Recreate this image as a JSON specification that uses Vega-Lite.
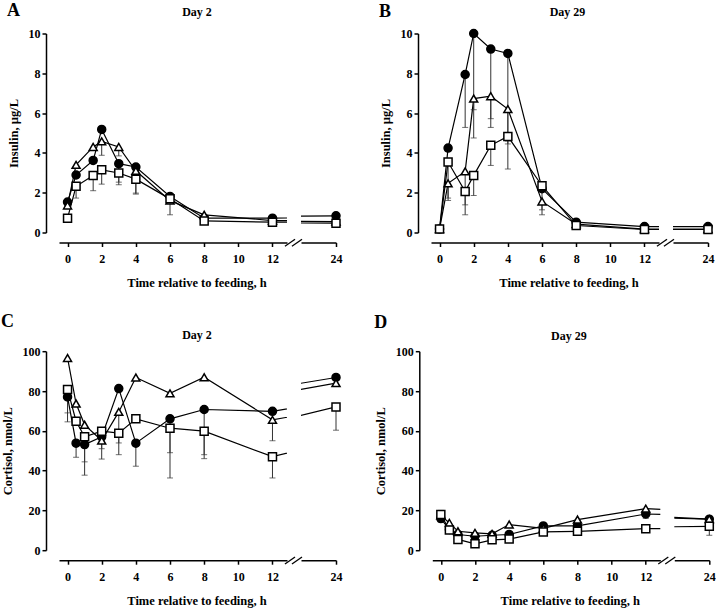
{
  "$schema": "https://vega.github.io/schema/vega-lite/v6.json",
  "padding": {"left": 1, "top": 1.5, "right": 3, "bottom": 0},
  "background": "white",
  "config": {
    "font": "Liberation Serif",
    "view": {"stroke": null},
    "axis": {"domainColor": "black", "domainWidth": 1.5, "tickColor": "black", "tickWidth": 1.5, "tickSize": 4, "labelFont": "Liberation Serif", "labelFontSize": 12, "labelFontWeight": "bold", "labelColor": "black", "titleFont": "Liberation Serif", "titleFontSize": 12.5, "titleFontWeight": "bold", "titleColor": "black", "grid": false, "labelFlush": false, "labelOverlap": false, "labelBound": false},
    "axisX": {"offset": 10, "labelPadding": 7, "titlePadding": 12, "titleX": 137.5},
    "axisY": {"offset": 13, "labelPadding": 2, "titlePadding": 8},
    "title": {"font": "Liberation Serif", "fontWeight": "bold", "color": "black"}
  },
  "datasets": {
    "ins2": [
      {"g": "circle", "t": 0, "v": 1.53}, {"g": "circle", "t": 0.5, "v": 2.89}, {"g": "circle", "t": 1.5, "v": 3.62}, {"g": "circle", "t": 2, "v": 5.18}, {"g": "circle", "t": 3, "v": 3.46, "e": 2.53}, {"g": "circle", "t": 4, "v": 3.29, "e": 1.98}, {"g": "circle", "t": 6, "v": 1.81}, {"g": "circle", "t": 8, "v": 0.72}, {"g": "circle", "t": 12, "v": 0.72}, {"g": "circle", "t": 24, "v": 0.84},
      {"g": "triangle", "t": 0, "v": 1.36}, {"g": "triangle", "t": 0.5, "v": 3.4}, {"g": "triangle", "t": 1.5, "v": 4.3}, {"g": "triangle", "t": 2, "v": 4.58, "e": 3.88}, {"g": "triangle", "t": 3, "v": 4.3, "e": 3.85}, {"g": "triangle", "t": 4, "v": 3.1}, {"g": "triangle", "t": 6, "v": 1.6}, {"g": "triangle", "t": 8, "v": 0.89}, {"g": "triangle", "t": 12, "v": 0.6}, {"g": "triangle", "t": 24, "v": 0.55},
      {"g": "square", "t": 0, "v": 0.72}, {"g": "square", "t": 0.5, "v": 2.32, "e": 1.73}, {"g": "square", "t": 1.5, "v": 2.87, "e": 2.1}, {"g": "square", "t": 2, "v": 3.15, "e": 2.43}, {"g": "square", "t": 3, "v": 2.99, "e": 2.4}, {"g": "square", "t": 4, "v": 2.68, "e": 1.93}, {"g": "square", "t": 6, "v": 1.69, "e": 0.89}, {"g": "square", "t": 8, "v": 0.58}, {"g": "square", "t": 12, "v": 0.52}, {"g": "square", "t": 24, "v": 0.47}
    ],
    "ins29": [
      {"g": "circle", "t": 0, "v": 0.17}, {"g": "circle", "t": 0.5, "v": 4.24}, {"g": "circle", "t": 1.5, "v": 7.94, "e": 5.28}, {"g": "circle", "t": 2, "v": 10.0, "e": 6.17}, {"g": "circle", "t": 3, "v": 9.22, "e": 5.72}, {"g": "circle", "t": 4, "v": 9.0, "e": 4.6}, {"g": "circle", "t": 6, "v": 2.2, "e": 1.14}, {"g": "circle", "t": 8, "v": 0.52}, {"g": "circle", "t": 12, "v": 0.3}, {"g": "circle", "t": 24, "v": 0.3},
      {"g": "triangle", "t": 0, "v": 0.17}, {"g": "triangle", "t": 0.5, "v": 2.47, "e": 1.61}, {"g": "triangle", "t": 1.5, "v": 3.07, "e": 1.39}, {"g": "triangle", "t": 2, "v": 6.73, "e": 4.75}, {"g": "triangle", "t": 3, "v": 6.85, "e": 5.28}, {"g": "triangle", "t": 4, "v": 6.2, "e": 3.19}, {"g": "triangle", "t": 6, "v": 1.56, "e": 0.89}, {"g": "triangle", "t": 8, "v": 0.42}, {"g": "triangle", "t": 12, "v": 0.17}, {"g": "triangle", "t": 24, "v": 0.17},
      {"g": "square", "t": 0, "v": 0.17}, {"g": "square", "t": 0.5, "v": 3.54, "e": 1.73}, {"g": "square", "t": 1.5, "v": 2.06, "e": 0.89}, {"g": "square", "t": 2, "v": 2.87, "e": 1.86}, {"g": "square", "t": 3, "v": 4.38, "e": 3.37}, {"g": "square", "t": 4, "v": 4.83, "e": 4.45}, {"g": "square", "t": 6, "v": 2.35}, {"g": "square", "t": 8, "v": 0.35}, {"g": "square", "t": 12, "v": 0.15}, {"g": "square", "t": 24, "v": 0.15}
    ],
    "cor2": [
      {"g": "circle", "t": 0, "v": 77.0, "e": 64.5}, {"g": "circle", "t": 0.5, "v": 53.8, "e": 46.7}, {"g": "circle", "t": 1, "v": 53.1, "e": 37.7}, {"g": "circle", "t": 2, "v": 57.0}, {"g": "circle", "t": 3, "v": 81.2}, {"g": "circle", "t": 4, "v": 53.8, "e": 42.2}, {"g": "circle", "t": 6, "v": 66.0, "e": 36.3}, {"g": "circle", "t": 8, "v": 70.7, "e": 46.0}, {"g": "circle", "t": 12, "v": 69.8}, {"g": "circle", "t": 24, "v": 86.8},
      {"g": "triangle", "t": 0, "v": 96.6}, {"g": "triangle", "t": 0.5, "v": 73.7}, {"g": "triangle", "t": 1, "v": 63.0}, {"g": "triangle", "t": 2, "v": 55.1, "e": 45.8}, {"g": "triangle", "t": 3, "v": 69.5, "e": 53.9}, {"g": "triangle", "t": 4, "v": 86.8}, {"g": "triangle", "t": 6, "v": 78.8}, {"g": "triangle", "t": 8, "v": 86.9}, {"g": "triangle", "t": 12, "v": 65.5, "e": 55.0}, {"g": "triangle", "t": 24, "v": 84.0},
      {"g": "square", "t": 0, "v": 80.8, "e": 69.0}, {"g": "square", "t": 0.5, "v": 64.8}, {"g": "square", "t": 1, "v": 57.0, "e": 44.4}, {"g": "square", "t": 2, "v": 59.8, "e": 51.0}, {"g": "square", "t": 3, "v": 58.8, "e": 48.0}, {"g": "square", "t": 4, "v": 66.0}, {"g": "square", "t": 6, "v": 61.3, "e": 49.0}, {"g": "square", "t": 8, "v": 59.8, "e": 48.0}, {"g": "square", "t": 12, "v": 47.0, "e": 36.3}, {"g": "square", "t": 24, "v": 72.0, "e": 60.3}
    ],
    "cor29": [
      {"g": "circle", "t": 0, "v": 15.9, "e": 14.2}, {"g": "circle", "t": 0.5, "v": 10.4}, {"g": "circle", "t": 1, "v": 7.9}, {"g": "circle", "t": 2, "v": 7.0}, {"g": "circle", "t": 3, "v": 7.5}, {"g": "circle", "t": 4, "v": 7.9}, {"g": "circle", "t": 6, "v": 12.2}, {"g": "circle", "t": 8, "v": 12.2}, {"g": "circle", "t": 12, "v": 18.2, "e": 16.0}, {"g": "circle", "t": 24, "v": 15.6},
      {"g": "triangle", "t": 0, "v": 17.5}, {"g": "triangle", "t": 0.5, "v": 13.7}, {"g": "triangle", "t": 1, "v": 9.5}, {"g": "triangle", "t": 2, "v": 8.7}, {"g": "triangle", "t": 3, "v": 8.2}, {"g": "triangle", "t": 4, "v": 12.9}, {"g": "triangle", "t": 6, "v": 11.0}, {"g": "triangle", "t": 8, "v": 15.4}, {"g": "triangle", "t": 12, "v": 20.9}, {"g": "triangle", "t": 24, "v": 15.6},
      {"g": "square", "t": 0, "v": 17.9, "e": 20.0}, {"g": "square", "t": 0.5, "v": 10.1}, {"g": "square", "t": 1, "v": 5.4}, {"g": "square", "t": 2, "v": 3.2}, {"g": "square", "t": 3, "v": 5.2}, {"g": "square", "t": 4, "v": 5.6}, {"g": "square", "t": 6, "v": 9.2, "e": 7.5}, {"g": "square", "t": 8, "v": 9.5}, {"g": "square", "t": 12, "v": 10.8}, {"g": "square", "t": 24, "v": 12.0, "e": 7.5}
    ]
  },
  "concat": [
    {
      "spacing": 36,
      "hconcat": [
        {
          "bounds": "flush", "spacing": 14,
          "hconcat": [
            {
              "width": 228, "height": 199, "data": {"name": "ins2"},
              "title": {"text": "A", "anchor": "start", "frame": "bounds", "fontSize": 18, "offset": -6, "baseline": "alphabetic"},
              "layer": [
                {"mark": {"type": "line", "clip": true, "color": "black", "strokeWidth": 1.2},
                 "encoding": {"x": {"field": "t", "type": "quantitative", "scale": {"domain": [-0.5, 12.85], "nice": false, "zero": false}, "axis": {"values": [0, 2, 4, 6, 8, 10, 12], "tickCount": 50, "format": "d", "title": "Time relative to feeding, h"}},
                              "y": {"field": "v", "type": "quantitative", "scale": {"domain": [0, 10], "nice": false}, "axis": {"values": [0, 2, 4, 6, 8, 10], "tickCount": 50, "format": "d", "title": "Insulin, µg/L"}},
                              "detail": {"field": "g"}}},
                {"transform": [{"filter": "isValid(datum.e) && datum.t <= 12"}], "mark": {"type": "rule", "color": "#333", "strokeWidth": 1},
                 "encoding": {"x": {"field": "t", "type": "quantitative"}, "y": {"field": "v", "type": "quantitative"}, "y2": {"field": "e"}}},
                {"transform": [{"filter": "isValid(datum.e) && datum.t <= 12"}], "mark": {"type": "tick", "orient": "horizontal", "color": "#333", "size": 6, "thickness": 1},
                 "encoding": {"x": {"field": "t", "type": "quantitative"}, "y": {"field": "e", "type": "quantitative"}}},
                {"transform": [{"filter": "datum.t <= 12"}], "mark": {"type": "point", "filled": true, "stroke": "black", "strokeWidth": 1.5, "size": 64, "opacity": 1},
                 "encoding": {"x": {"field": "t", "type": "quantitative"}, "y": {"field": "v", "type": "quantitative"},
                              "shape": {"field": "g", "type": "nominal", "scale": {"domain": ["circle", "triangle", "square"], "range": ["circle", "triangle-up", "square"]}, "legend": null},
                              "fill": {"field": "g", "type": "nominal", "scale": {"domain": ["circle", "triangle", "square"], "range": ["black", "white", "white"]}, "legend": null}}},
                {"data": {"values": [{}]}, "mark": {"type": "rule", "color": "black", "strokeWidth": 1.3},
                 "encoding": {"x": {"datum": 12.73}, "x2": {"datum": 13.32}, "y": {"datum": -0.69}, "y2": {"datum": -0.34}}},
                {"data": {"values": [{}]}, "mark": {"type": "rule", "color": "black", "strokeWidth": 1.3},
                 "encoding": {"x": {"datum": 13.14}, "x2": {"datum": 13.73}, "y": {"datum": -0.69}, "y2": {"datum": -0.34}}}
              ]
            },
            {
              "width": 35, "height": 199, "data": {"name": "ins2"},
              "title": {"text": "Day 2", "anchor": "middle", "frame": "group", "fontSize": 12, "offset": 5.6, "baseline": "alphabetic", "dx": -121.5},
              "layer": [
                {"mark": {"type": "line", "clip": true, "color": "black", "strokeWidth": 1.2},
                 "encoding": {"x": {"field": "t", "type": "quantitative", "scale": {"domain": [21.95, 24], "nice": false, "zero": false}, "axis": {"values": [24], "tickCount": 50, "format": "d", "title": null}},
                              "y": {"field": "v", "type": "quantitative", "scale": {"domain": [0, 10], "nice": false}, "axis": null},
                              "detail": {"field": "g"}}},
                {"transform": [{"filter": "datum.t >= 22"}], "mark": {"type": "point", "filled": true, "stroke": "black", "strokeWidth": 1.5, "size": 64, "opacity": 1},
                 "encoding": {"x": {"field": "t", "type": "quantitative"}, "y": {"field": "v", "type": "quantitative"},
                              "shape": {"field": "g", "type": "nominal", "scale": {"domain": ["circle", "triangle", "square"], "range": ["circle", "triangle-up", "square"]}, "legend": null},
                              "fill": {"field": "g", "type": "nominal", "scale": {"domain": ["circle", "triangle", "square"], "range": ["black", "white", "white"]}, "legend": null}}}
              ]
            }
          ]
        },
        {
          "bounds": "flush", "spacing": 14,
          "hconcat": [
            {
              "width": 228, "height": 199, "data": {"name": "ins29"},
              "title": {"text": "B", "anchor": "start", "frame": "bounds", "fontSize": 18, "offset": -8.2, "baseline": "alphabetic"},
              "layer": [
                {"mark": {"type": "line", "clip": true, "color": "black", "strokeWidth": 1.2},
                 "encoding": {"x": {"field": "t", "type": "quantitative", "scale": {"domain": [-0.5, 12.85], "nice": false, "zero": false}, "axis": {"values": [0, 2, 4, 6, 8, 10, 12], "tickCount": 50, "format": "d", "title": "Time relative to feeding, h"}},
                              "y": {"field": "v", "type": "quantitative", "scale": {"domain": [0, 10], "nice": false}, "axis": {"values": [0, 2, 4, 6, 8, 10], "tickCount": 50, "format": "d", "title": "Insulin, µg/L"}},
                              "detail": {"field": "g"}}},
                {"transform": [{"filter": "isValid(datum.e) && datum.t <= 12"}], "mark": {"type": "rule", "color": "#333", "strokeWidth": 1},
                 "encoding": {"x": {"field": "t", "type": "quantitative"}, "y": {"field": "v", "type": "quantitative"}, "y2": {"field": "e"}}},
                {"transform": [{"filter": "isValid(datum.e) && datum.t <= 12"}], "mark": {"type": "tick", "orient": "horizontal", "color": "#333", "size": 6, "thickness": 1},
                 "encoding": {"x": {"field": "t", "type": "quantitative"}, "y": {"field": "e", "type": "quantitative"}}},
                {"transform": [{"filter": "datum.t <= 12"}], "mark": {"type": "point", "filled": true, "stroke": "black", "strokeWidth": 1.5, "size": 64, "opacity": 1},
                 "encoding": {"x": {"field": "t", "type": "quantitative"}, "y": {"field": "v", "type": "quantitative"},
                              "shape": {"field": "g", "type": "nominal", "scale": {"domain": ["circle", "triangle", "square"], "range": ["circle", "triangle-up", "square"]}, "legend": null},
                              "fill": {"field": "g", "type": "nominal", "scale": {"domain": ["circle", "triangle", "square"], "range": ["black", "white", "white"]}, "legend": null}}},
                {"data": {"values": [{}]}, "mark": {"type": "rule", "color": "black", "strokeWidth": 1.3},
                 "encoding": {"x": {"datum": 12.73}, "x2": {"datum": 13.32}, "y": {"datum": -0.69}, "y2": {"datum": -0.34}}},
                {"data": {"values": [{}]}, "mark": {"type": "rule", "color": "black", "strokeWidth": 1.3},
                 "encoding": {"x": {"datum": 13.14}, "x2": {"datum": 13.73}, "y": {"datum": -0.69}, "y2": {"datum": -0.34}}}
              ]
            },
            {
              "width": 35, "height": 199, "data": {"name": "ins29"},
              "title": {"text": "Day 29", "anchor": "middle", "frame": "group", "fontSize": 12, "offset": 5.6, "baseline": "alphabetic", "dx": -123},
              "layer": [
                {"mark": {"type": "line", "clip": true, "color": "black", "strokeWidth": 1.2},
                 "encoding": {"x": {"field": "t", "type": "quantitative", "scale": {"domain": [21.95, 24], "nice": false, "zero": false}, "axis": {"values": [24], "tickCount": 50, "format": "d", "title": null}},
                              "y": {"field": "v", "type": "quantitative", "scale": {"domain": [0, 10], "nice": false}, "axis": null},
                              "detail": {"field": "g"}}},
                {"transform": [{"filter": "datum.t >= 22"}], "mark": {"type": "point", "filled": true, "stroke": "black", "strokeWidth": 1.5, "size": 64, "opacity": 1},
                 "encoding": {"x": {"field": "t", "type": "quantitative"}, "y": {"field": "v", "type": "quantitative"},
                              "shape": {"field": "g", "type": "nominal", "scale": {"domain": ["circle", "triangle", "square"], "range": ["circle", "triangle-up", "square"]}, "legend": null},
                              "fill": {"field": "g", "type": "nominal", "scale": {"domain": ["circle", "triangle", "square"], "range": ["black", "white", "white"]}, "legend": null}}}
              ]
            }
          ]
        }
      ]
    },
    {
      "spacing": 31.3,
      "hconcat": [
        {
          "bounds": "flush", "spacing": 14,
          "hconcat": [
            {
              "width": 228, "height": 199, "data": {"name": "cor2"},
              "title": {"text": "C", "anchor": "start", "frame": "bounds", "fontSize": 18, "offset": -0.2, "baseline": "alphabetic"},
              "layer": [
                {"mark": {"type": "line", "clip": true, "color": "black", "strokeWidth": 1.2},
                 "encoding": {"x": {"field": "t", "type": "quantitative", "scale": {"domain": [-0.5, 12.85], "nice": false, "zero": false}, "axis": {"values": [0, 2, 4, 6, 8, 10, 12], "tickCount": 50, "format": "d", "title": "Time relative to feeding, h"}},
                              "y": {"field": "v", "type": "quantitative", "scale": {"domain": [0, 100], "nice": false}, "axis": {"values": [0, 20, 40, 60, 80, 100], "tickCount": 50, "format": "d", "title": "Cortisol, nmol/L"}},
                              "detail": {"field": "g"}}},
                {"transform": [{"filter": "isValid(datum.e) && datum.t <= 12"}], "mark": {"type": "rule", "color": "#333", "strokeWidth": 1},
                 "encoding": {"x": {"field": "t", "type": "quantitative"}, "y": {"field": "v", "type": "quantitative"}, "y2": {"field": "e"}}},
                {"transform": [{"filter": "isValid(datum.e) && datum.t <= 12"}], "mark": {"type": "tick", "orient": "horizontal", "color": "#333", "size": 6, "thickness": 1},
                 "encoding": {"x": {"field": "t", "type": "quantitative"}, "y": {"field": "e", "type": "quantitative"}}},
                {"transform": [{"filter": "datum.t <= 12"}], "mark": {"type": "point", "filled": true, "stroke": "black", "strokeWidth": 1.5, "size": 64, "opacity": 1},
                 "encoding": {"x": {"field": "t", "type": "quantitative"}, "y": {"field": "v", "type": "quantitative"},
                              "shape": {"field": "g", "type": "nominal", "scale": {"domain": ["circle", "triangle", "square"], "range": ["circle", "triangle-up", "square"]}, "legend": null},
                              "fill": {"field": "g", "type": "nominal", "scale": {"domain": ["circle", "triangle", "square"], "range": ["black", "white", "white"]}, "legend": null}}},
                {"data": {"values": [{}]}, "mark": {"type": "rule", "color": "black", "strokeWidth": 1.3},
                 "encoding": {"x": {"datum": 12.73}, "x2": {"datum": 13.32}, "y": {"datum": -6.9}, "y2": {"datum": -3.4}}},
                {"data": {"values": [{}]}, "mark": {"type": "rule", "color": "black", "strokeWidth": 1.3},
                 "encoding": {"x": {"datum": 13.14}, "x2": {"datum": 13.73}, "y": {"datum": -6.9}, "y2": {"datum": -3.4}}}
              ]
            },
            {
              "width": 35, "height": 199, "data": {"name": "cor2"},
              "title": {"text": "Day 2", "anchor": "middle", "frame": "group", "fontSize": 12, "offset": 0.6, "baseline": "alphabetic", "dx": -121.5},
              "layer": [
                {"mark": {"type": "line", "clip": true, "color": "black", "strokeWidth": 1.2},
                 "encoding": {"x": {"field": "t", "type": "quantitative", "scale": {"domain": [21.95, 24], "nice": false, "zero": false}, "axis": {"values": [24], "tickCount": 50, "format": "d", "title": null}},
                              "y": {"field": "v", "type": "quantitative", "scale": {"domain": [0, 100], "nice": false}, "axis": null},
                              "detail": {"field": "g"}}},
                {"transform": [{"filter": "isValid(datum.e) && datum.t >= 22"}], "mark": {"type": "rule", "color": "#333", "strokeWidth": 1},
                 "encoding": {"x": {"field": "t", "type": "quantitative"}, "y": {"field": "v", "type": "quantitative"}, "y2": {"field": "e"}}},
                {"transform": [{"filter": "isValid(datum.e) && datum.t >= 22"}], "mark": {"type": "tick", "orient": "horizontal", "color": "#333", "size": 6, "thickness": 1},
                 "encoding": {"x": {"field": "t", "type": "quantitative"}, "y": {"field": "e", "type": "quantitative"}}},
                {"transform": [{"filter": "datum.t >= 22"}], "mark": {"type": "point", "filled": true, "stroke": "black", "strokeWidth": 1.5, "size": 64, "opacity": 1},
                 "encoding": {"x": {"field": "t", "type": "quantitative"}, "y": {"field": "v", "type": "quantitative"},
                              "shape": {"field": "g", "type": "nominal", "scale": {"domain": ["circle", "triangle", "square"], "range": ["circle", "triangle-up", "square"]}, "legend": null},
                              "fill": {"field": "g", "type": "nominal", "scale": {"domain": ["circle", "triangle", "square"], "range": ["black", "white", "white"]}, "legend": null}}}
              ]
            }
          ]
        },
        {
          "bounds": "flush", "spacing": 14,
          "hconcat": [
            {
              "width": 228, "height": 199, "data": {"name": "cor29"},
              "title": {"text": "D", "anchor": "start", "frame": "bounds", "fontSize": 18, "offset": -1.2, "baseline": "alphabetic"},
              "layer": [
                {"mark": {"type": "line", "clip": true, "color": "black", "strokeWidth": 1.2},
                 "encoding": {"x": {"field": "t", "type": "quantitative", "scale": {"domain": [-0.5, 12.85], "nice": false, "zero": false}, "axis": {"values": [0, 2, 4, 6, 8, 10, 12], "tickCount": 50, "format": "d", "title": "Time relative to feeding, h"}},
                              "y": {"field": "v", "type": "quantitative", "scale": {"domain": [0, 100], "nice": false}, "axis": {"values": [0, 20, 40, 60, 80, 100], "tickCount": 50, "format": "d", "title": "Cortisol, nmol/L"}},
                              "detail": {"field": "g"}}},
                {"transform": [{"filter": "isValid(datum.e) && datum.t <= 12"}], "mark": {"type": "rule", "color": "#333", "strokeWidth": 1},
                 "encoding": {"x": {"field": "t", "type": "quantitative"}, "y": {"field": "v", "type": "quantitative"}, "y2": {"field": "e"}}},
                {"transform": [{"filter": "isValid(datum.e) && datum.t <= 12"}], "mark": {"type": "tick", "orient": "horizontal", "color": "#333", "size": 6, "thickness": 1},
                 "encoding": {"x": {"field": "t", "type": "quantitative"}, "y": {"field": "e", "type": "quantitative"}}},
                {"transform": [{"filter": "datum.t <= 12"}], "mark": {"type": "point", "filled": true, "stroke": "black", "strokeWidth": 1.5, "size": 64, "opacity": 1},
                 "encoding": {"x": {"field": "t", "type": "quantitative"}, "y": {"field": "v", "type": "quantitative"},
                              "shape": {"field": "g", "type": "nominal", "scale": {"domain": ["circle", "triangle", "square"], "range": ["circle", "triangle-up", "square"]}, "legend": null},
                              "fill": {"field": "g", "type": "nominal", "scale": {"domain": ["circle", "triangle", "square"], "range": ["black", "white", "white"]}, "legend": null}}},
                {"data": {"values": [{}]}, "mark": {"type": "rule", "color": "black", "strokeWidth": 1.3},
                 "encoding": {"x": {"datum": 12.73}, "x2": {"datum": 13.32}, "y": {"datum": -6.9}, "y2": {"datum": -3.4}}},
                {"data": {"values": [{}]}, "mark": {"type": "rule", "color": "black", "strokeWidth": 1.3},
                 "encoding": {"x": {"datum": 13.14}, "x2": {"datum": 13.73}, "y": {"datum": -6.9}, "y2": {"datum": -3.4}}}
              ]
            },
            {
              "width": 35, "height": 199, "data": {"name": "cor29"},
              "title": {"text": "Day 29", "anchor": "middle", "frame": "group", "fontSize": 12, "offset": -0.4, "baseline": "alphabetic", "dx": -123},
              "layer": [
                {"mark": {"type": "line", "clip": true, "color": "black", "strokeWidth": 1.2},
                 "encoding": {"x": {"field": "t", "type": "quantitative", "scale": {"domain": [21.95, 24], "nice": false, "zero": false}, "axis": {"values": [24], "tickCount": 50, "format": "d", "title": null}},
                              "y": {"field": "v", "type": "quantitative", "scale": {"domain": [0, 100], "nice": false}, "axis": null},
                              "detail": {"field": "g"}}},
                {"transform": [{"filter": "isValid(datum.e) && datum.t >= 22"}], "mark": {"type": "rule", "color": "#333", "strokeWidth": 1},
                 "encoding": {"x": {"field": "t", "type": "quantitative"}, "y": {"field": "v", "type": "quantitative"}, "y2": {"field": "e"}}},
                {"transform": [{"filter": "isValid(datum.e) && datum.t >= 22"}], "mark": {"type": "tick", "orient": "horizontal", "color": "#333", "size": 6, "thickness": 1},
                 "encoding": {"x": {"field": "t", "type": "quantitative"}, "y": {"field": "e", "type": "quantitative"}}},
                {"transform": [{"filter": "datum.t >= 22"}], "mark": {"type": "point", "filled": true, "stroke": "black", "strokeWidth": 1.5, "size": 64, "opacity": 1},
                 "encoding": {"x": {"field": "t", "type": "quantitative"}, "y": {"field": "v", "type": "quantitative"},
                              "shape": {"field": "g", "type": "nominal", "scale": {"domain": ["circle", "triangle", "square"], "range": ["circle", "triangle-up", "square"]}, "legend": null},
                              "fill": {"field": "g", "type": "nominal", "scale": {"domain": ["circle", "triangle", "square"], "range": ["black", "white", "white"]}, "legend": null}}}
              ]
            }
          ]
        }
      ]
    }
  ],
  "columns": 1,
  "align": "none",
  "spacing": 23.7
}
